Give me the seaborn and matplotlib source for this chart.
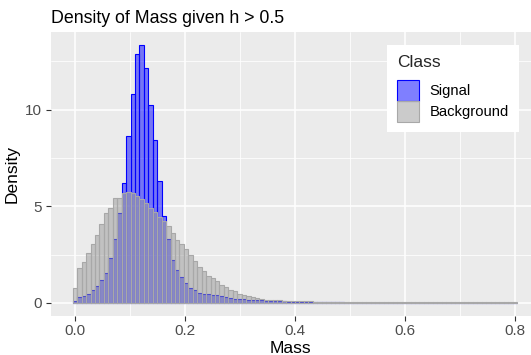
import numpy as np
import pandas as pd
import matplotlib
matplotlib.use("Agg")
import matplotlib.pyplot as plt
from matplotlib.patches import Patch
from matplotlib.ticker import MultipleLocator
import seaborn as sns

# Histogram densities of Mass (100 bins spanning 0 to 0.8)
signal_density = [
    0.09, 0.29, 0.34, 0.48, 0.66, 0.86, 1.17, 1.55, 2.33, 3.28,
    4.66, 6.21, 8.62, 10.81, 12.90, 13.34, 12.14, 10.26, 8.41, 6.29,
    4.48, 3.28, 2.24, 1.72, 1.34, 1.03, 0.78, 0.66, 0.52, 0.47,
    0.48, 0.42, 0.38, 0.34, 0.29, 0.26, 0.22, 0.21, 0.19, 0.17,
    0.16, 0.14, 0.12, 0.11, 0.10, 0.09, 0.08, 0.07, 0.06, 0.06,
    0.05, 0.05, 0.04, 0.04, 0.03, 0.03, 0.03, 0.02, 0.02, 0.02,
    0.02, 0.01, 0.01, 0.01, 0.01, 0.01, 0.01, 0.01, 0.01, 0.01,
    0.01, 0.01, 0.005, 0.005, 0.005, 0.005, 0.005, 0.005, 0.005, 0.005,
    0.005, 0.005, 0.005, 0.005, 0.005, 0.005, 0.005, 0.005, 0.005, 0.005,
    0.005, 0.005, 0.005, 0.005, 0.005, 0.005, 0.005, 0.005, 0.005, 0.005,
]
background_density = [
    0.78, 1.81, 2.10, 2.59, 3.05, 3.53, 4.10, 4.66, 4.91, 5.41,
    5.45, 5.66, 5.76, 5.69, 5.55, 5.38, 5.15, 4.90, 4.70, 4.45,
    4.22, 3.97, 3.62, 3.24, 3.02, 2.76, 2.45, 2.16, 1.86, 1.64,
    1.41, 1.28, 1.12, 0.91, 0.81, 0.66, 0.59, 0.48, 0.41, 0.34,
    0.29, 0.24, 0.21, 0.17, 0.16, 0.14, 0.12, 0.11, 0.10, 0.09,
    0.08, 0.08, 0.07, 0.07, 0.06, 0.06, 0.05, 0.05, 0.05, 0.04,
    0.04, 0.04, 0.04, 0.03, 0.03, 0.03, 0.03, 0.03, 0.03, 0.03,
    0.03, 0.03, 0.02, 0.02, 0.02, 0.02, 0.02, 0.02, 0.02, 0.02,
    0.02, 0.02, 0.02, 0.02, 0.02, 0.02, 0.02, 0.02, 0.02, 0.02,
    0.02, 0.02, 0.02, 0.02, 0.02, 0.02, 0.02, 0.02, 0.02, 0.02,
]
class_labels = ["Signal", "Background"]
x_ticks = [0.0, 0.2, 0.4, 0.6, 0.8]
y_ticks = [0, 5, 10]

mass_min, mass_max = 0.0, 0.8
n_bins = len(signal_density)
centers = np.linspace(mass_min, mass_max, n_bins)
width = (mass_max - mass_min) / (n_bins - 1)
edges = np.append(centers - width / 2, centers[-1] + width / 2).tolist()

df = pd.DataFrame({
    "Mass": np.concatenate([centers, centers]),
    "Density": np.concatenate([signal_density, background_density]),
    "Class": [class_labels[0]] * n_bins + [class_labels[1]] * n_bins,
})

sns.set_theme(style="darkgrid")
plt.rcParams["font.family"] = ["Liberation Sans", "DejaVu Sans"]
plt.rcParams["axes.facecolor"] = "#EBEBEB"

fig = plt.figure(figsize=(5.31, 3.55), dpi=100)
W, H = 531, 355
left, right, top, bottom = 50.7, 531, 32.3, 315.7
ax = fig.add_axes([left / W, (H - bottom) / H, (right - left) / W, (bottom - top) / H])

styles = {
    "Signal": dict(facecolor=(0, 0, 1, 0.5), edgecolor="#0000FF"),
    "Background": dict(facecolor=(0.6, 0.6, 0.6, 0.5), edgecolor="#A8A8A8"),
}
for cls in class_labels:
    sub = df[df["Class"] == cls]
    sns.histplot(data=sub, x="Mass", weights="Density", bins=edges, stat="count",
                 linewidth=0.8, ax=ax, **styles[cls])

ax.set_xlim(-0.0442, 0.829)
ax.set_ylim(-0.667, 14.0)
ax.set_xticks(x_ticks)
ax.set_xticklabels([f"{v:.1f}" for v in x_ticks])
ax.set_yticks(y_ticks)
ax.set_yticklabels([str(v) for v in y_ticks])
ax.xaxis.set_minor_locator(MultipleLocator(0.1))
ax.yaxis.set_minor_locator(MultipleLocator(2.5))
ax.grid(which="major", color="white", linewidth=1.1)
ax.grid(which="minor", color="white", linewidth=0.55)
ax.set_axisbelow(True)
for s in ax.spines.values():
    s.set_visible(False)

ax.tick_params(which="major", length=3.8, width=0.8, color="#333333",
               labelsize=11, labelcolor="#4D4D4D", pad=2.5, bottom=True, left=True)
ax.tick_params(which="minor", length=0)

ax.set_xlabel("Mass", fontsize=12.5, color="black", labelpad=1.5)
ax.set_ylabel("Density", fontsize=12.5, color="black", labelpad=4)
ax.set_title("Density of Mass given h > 0.5", fontsize=12.8, loc="left",
             x=0.0, pad=7, color="black")

handles = [Patch(label=cls, linewidth=0.8, **styles[cls]) for cls in class_labels]
leg = ax.legend(handles=handles, title="Class", loc="upper left",
                bbox_to_anchor=(387 / W, 1 - 45 / H), bbox_transform=fig.transFigure,
                fontsize=10.6, title_fontsize=12.5, frameon=True, fancybox=False,
                facecolor="white", edgecolor="none", framealpha=1,
                handlelength=1.45, handleheight=1.8, handletextpad=0.75,
                labelspacing=0.0, borderpad=0.7, borderaxespad=0)
leg._legend_box.align = "left"
leg._legend_box.sep = 7
for t in leg.get_texts():
    t.set_color("black")

fig.savefig("out.png", dpi=100)
